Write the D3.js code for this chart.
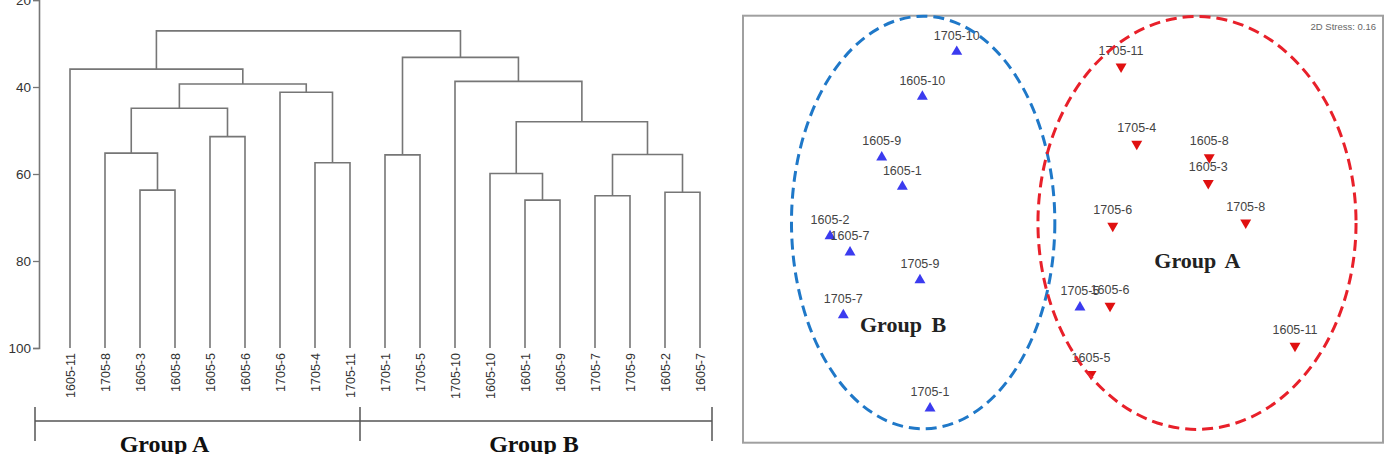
<!DOCTYPE html>
<html>
<head>
<meta charset="utf-8">
<script src="https://cdn.jsdelivr.net/npm/d3@7"></script>
<style>
  body { margin: 0; background: #fff; }
  svg { display: block; }
</style>
</head>
<body>
<div id="chart"></div>
<script>
// dendrogram leaves, left to right
var leaves = ["1605-11", "1705-8", "1605-3", "1605-8", "1605-5", "1605-6", "1705-6", "1705-4", "1705-11",
  "1705-1", "1705-5", "1705-10", "1605-10", "1605-1", "1605-9", "1705-7", "1705-9", "1605-2", "1605-7"];

// merges: [left, right, height]; refs are leaf names or "m" + merge index
var merges = [
  ["1605-3", "1605-8", 63.7],
  ["1705-8", "m0", 55.2],
  ["1605-5", "1605-6", 51.4],
  ["m1", "m2", 44.9],
  ["1705-4", "1705-11", 57.4],
  ["1705-6", "m4", 41.2],
  ["m3", "m5", 39.3],
  ["1605-11", "m6", 35.9],
  ["1605-1", "1605-9", 66.0],
  ["1605-10", "m8", 59.9],
  ["1705-7", "1705-9", 65.0],
  ["1605-2", "1605-7", 64.2],
  ["m10", "m11", 55.5],
  ["m9", "m12", 48.0],
  ["1705-10", "m13", 38.7],
  ["1705-1", "1705-5", 55.6],
  ["m15", "m14", 33.2],
  ["m7", "m16", 27.1]
];

var yTicks = [20, 40, 60, 80, 100];

// group brackets under the dendrogram: name, label shift from bracket middle
var dendroGroups = ["Group A", "Group B"];
var dendroGroupShift = [-33, -2];

// NMDS ordination
var blueNames = ["1705-10", "1605-10", "1605-9", "1605-1", "1605-2", "1605-7", "1705-9", "1705-7", "1705-1", "1705-5"];
var blueX = [-0.664, -0.879, -1.133, -1.004, -1.456, -1.331, -0.894, -1.373, -0.831, 0.106];
var blueY = [1.109, 0.828, 0.449, 0.266, -0.043, -0.144, -0.318, -0.536, -1.119, -0.488];

var redNames = ["1705-11", "1705-4", "1605-8", "1605-3", "1705-6", "1705-8", "1605-6", "1605-11", "1605-5"];
var redX = [0.363, 0.461, 0.914, 0.908, 0.311, 1.142, 0.294, 1.450, 0.175];
var redY = [1.016, 0.533, 0.449, 0.287, 0.020, 0.041, -0.480, -0.730, -0.905];

// group ellipses: [cx, cy, rx, ry]
var blueEllipse = [-0.874, 0.042, 0.823, 1.289];
var redEllipse = [0.8375, 0.039, 0.994, 1.29];

var groupLabels = [["Group B", -1.0, -0.64], ["Group A", 0.84, -0.245]];
var stress = "2D Stress: 0.16";

var W = 1393, H = 454;
var svg = d3.select("#chart").append("svg").attr("width", W).attr("height", H);

// ---------- dendrogram ----------
var x = d3.scalePoint().domain(leaves).range([70, 700]);
var y = d3.scaleLinear().domain([20, 100]).range([0, 348]);
var lineColor = "#767676";

var pos = {};
leaves.forEach(function(d) { pos[d] = {x: x(d), h: 100}; });
merges.forEach(function(m, i) {
  pos["m" + i] = {x: (pos[m[0]].x + pos[m[1]].x) / 2, h: m[2]};
});

var dendro = svg.append("g");
dendro.selectAll("path.link")
  .data(merges)
  .enter().append("path")
  .attr("class", "link")
  .attr("fill", "none")
  .attr("stroke", lineColor)
  .attr("stroke-width", 1.6)
  .attr("d", function(m) {
    var a = pos[m[0]], b = pos[m[1]];
    return "M" + a.x + "," + y(a.h) + "V" + y(m[2]) + "H" + b.x + "V" + y(b.h);
  });

var yAxis = dendro.append("g")
  .attr("transform", "translate(39,0)")
  .call(d3.axisLeft(y).tickValues(yTicks).tickSize(6).tickPadding(2));
yAxis.select(".domain").attr("stroke", lineColor).attr("stroke-width", 1.6);
yAxis.selectAll(".tick line").attr("stroke", lineColor).attr("stroke-width", 1.3);
yAxis.selectAll("text")
  .attr("fill", "#333")
  .style("font-family", "Liberation Sans, Arial, sans-serif")
  .style("font-size", "13.5px");

dendro.selectAll("text.leaf")
  .data(leaves)
  .enter().append("text")
  .attr("class", "leaf")
  .attr("transform", function(d) { return "translate(" + (x(d) + 4.5) + ",353) rotate(-90)"; })
  .attr("text-anchor", "end")
  .attr("fill", "#333")
  .style("font-family", "Liberation Sans, Arial, sans-serif")
  .style("font-size", "12.5px")
  .text(function(d) { return d; });

// brackets: ends at the outer leaves and the split between groups
var bEdges = [x(leaves[0]) - 35, (x("1705-11") + x("1705-1")) / 2 - 7.5, x(leaves[leaves.length - 1]) + 12];
var bracket = dendro.append("g");
dendroGroups.forEach(function(name, i) {
  var x0 = bEdges[i], x1 = bEdges[i + 1];
  bracket.append("line").attr("x1", x0).attr("x2", x1).attr("y1", 421).attr("y2", 421);
  bracket.append("text")
    .attr("x", (x0 + x1) / 2 + dendroGroupShift[i]).attr("y", 452)
    .attr("text-anchor", "middle")
    .attr("fill", "#111")
    .style("font-family", "Liberation Serif, Times New Roman, serif")
    .style("font-weight", "bold")
    .style("font-size", "24px")
    .text(name);
});
bEdges.forEach(function(v) {
  bracket.append("line").attr("x1", v).attr("x2", v).attr("y1", 407).attr("y2", 441);
});
bracket.selectAll("line").attr("stroke", "#555").attr("stroke-width", 1.5);

// ---------- NMDS ----------
var nx = d3.scaleLinear().domain([-2, 2]).range([743, 1383]);
var ny = d3.scaleLinear().domain([1.334, -1.334]).range([15.7, 442.7]);

var nmds = svg.append("g");
nmds.append("rect")
  .attr("x", nx(-2)).attr("y", ny(1.334))
  .attr("width", nx(2) - nx(-2)).attr("height", ny(-1.334) - ny(1.334))
  .attr("fill", "none").attr("stroke", "#a0a0a0").attr("stroke-width", 2);

nmds.append("text")
  .attr("x", nx(2) - 7).attr("y", 30)
  .attr("text-anchor", "end")
  .attr("fill", "#666")
  .style("font-family", "Liberation Sans, Arial, sans-serif")
  .style("font-size", "9.5px")
  .text(stress);

var blue = blueNames.map(function(n, i) { return {name: n, x: blueX[i], y: blueY[i]}; });
var red = redNames.map(function(n, i) { return {name: n, x: redX[i], y: redY[i]}; });

var tri = d3.symbol().type(d3.symbolTriangle).size(52);

function drawPoints(data, color, down) {
  var g = nmds.append("g");
  g.selectAll("path")
    .data(data)
    .enter().append("path")
    .attr("d", tri)
    .attr("transform", function(d) {
      return "translate(" + nx(d.x) + "," + ny(d.y) + ")" + (down ? " rotate(180)" : "");
    })
    .attr("fill", color);
  g.selectAll("text")
    .data(data)
    .enter().append("text")
    .attr("x", function(d) { return nx(d.x); })
    .attr("y", function(d) { return ny(d.y) - 12; })
    .attr("text-anchor", "middle")
    .attr("fill", "#444")
    .style("font-family", "Liberation Sans, Arial, sans-serif")
    .style("font-size", "12.5px")
    .text(function(d) { return d.name; });
}
drawPoints(blue, "#3b3bef", false);
drawPoints(red, "#e01010", true);

nmds.selectAll("text.grp")
  .data(groupLabels)
  .enter().append("text")
  .attr("class", "grp")
  .attr("x", function(d) { return nx(d[1]); })
  .attr("y", function(d) { return ny(d[2]); })
  .attr("text-anchor", "middle")
  .attr("fill", "#222")
  .style("font-family", "Liberation Serif, Times New Roman, serif")
  .style("font-weight", "bold")
  .style("font-size", "22px")
  .style("word-spacing", "4px")
  .text(function(d) { return d[0]; });

function drawEllipse(e, color) {
  nmds.append("ellipse")
    .attr("cx", nx(e[0])).attr("cy", ny(e[1]))
    .attr("rx", nx(e[2]) - nx(0)).attr("ry", ny(0) - ny(e[3]))
    .attr("fill", "none")
    .attr("stroke", color)
    .attr("stroke-width", 3)
    .attr("stroke-dasharray", "11,6");
}
drawEllipse(blueEllipse, "#1f78c8");
drawEllipse(redEllipse, "#e8202a");
</script>
</body>
</html>
